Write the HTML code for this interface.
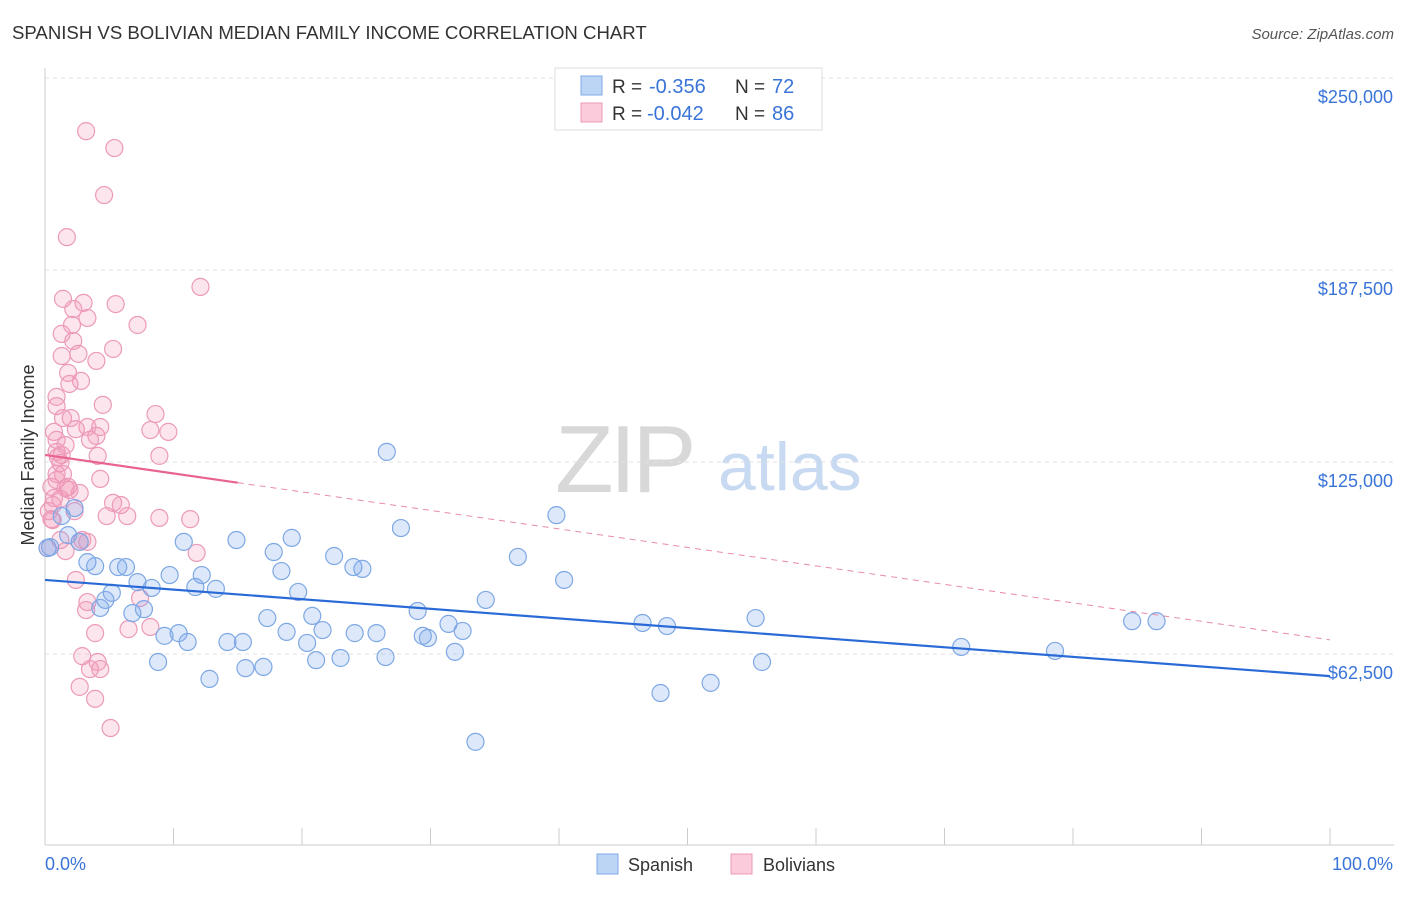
<!DOCTYPE html>
<html><head><meta charset="utf-8"><style>
body{margin:0;background:#fff;font-family:"Liberation Sans",sans-serif;}
svg text{font-family:"Liberation Sans",sans-serif;}
</style></head><body>
<svg id="chart" width="1406" height="892" xmlns="http://www.w3.org/2000/svg">
<text x="12" y="39" font-size="18.6" fill="#333">SPANISH VS BOLIVIAN MEDIAN FAMILY INCOME CORRELATION CHART</text>
<text x="1394" y="39" font-size="15" fill="#555" text-anchor="end" font-style="italic">Source: ZipAtlas.com</text>
<text x="555" y="492" font-size="96" fill="#d8d8d8" font-family="Liberation Serif" letter-spacing="-4">ZIP</text>
<text x="718" y="490" font-size="68" fill="#c8daf2">atlas</text>
<text transform="translate(34,455) rotate(-90)" font-size="18" fill="#333" text-anchor="middle">Median Family Income</text>
<g id="grid"></g><g id="pts"></g><g id="lines"></g>
<g>
<rect x="555" y="68" width="267" height="62" fill="#fff" stroke="#ddd"/>
<rect x="581" y="76" width="21" height="19" fill="#bcd5f5" stroke="#7eaae6"/>
<text x="612" y="93" font-size="19" fill="#333">R =</text>
<text x="649" y="93" font-size="20" fill="#3a74d8">-0.356</text>
<text x="735" y="93" font-size="19" fill="#333">N =</text>
<text x="772" y="93" font-size="20" fill="#3a74d8">72</text>
<rect x="581" y="103" width="21" height="19" fill="#fbcadb" stroke="#ee9ab8"/>
<text x="612" y="120" font-size="19" fill="#333">R =</text>
<text x="647" y="120" font-size="20" fill="#3a74d8">-0.042</text>
<text x="735" y="120" font-size="19" fill="#333">N =</text>
<text x="772" y="120" font-size="20" fill="#3a74d8">86</text>
</g>
<g>
<rect x="597" y="854" width="21" height="20" fill="#bcd5f5" stroke="#7eaae6"/>
<text x="628" y="871" font-size="18" fill="#333">Spanish</text>
<rect x="731" y="854" width="21" height="20" fill="#fbcadb" stroke="#ee9ab8"/>
<text x="763" y="871" font-size="18" fill="#333">Bolivians</text>
</g>
<text x="45" y="870" font-size="18" fill="#3a74d8">0.0%</text>
<text x="1393" y="870" font-size="18" fill="#3a74d8" text-anchor="end">100.0%</text>
</svg>
<script>
const yTicks=[62500,125000,187500,250000];
const yTickLabels=["$62,500","$125,000","$187,500","$250,000"];
const spanishX=[0.2,1.3,1.8,2.3,2.7,3.3,3.9,4.3,4.7,5.2,5.7,6.3,6.8,7.2,7.7,8.3,8.8,9.3,9.7,10.4,10.8,11.1,11.7,12.2,12.8,13.3,14.2,14.9,15.4,15.6,17.0,17.3,17.8,18.4,18.8,19.2,19.7,20.4,20.8,21.1,21.6,22.5,23.0,24.0,24.1,24.7,25.8,26.5,26.6,27.7,29.0,29.4,29.8,31.4,31.9,32.5,33.5,34.3,36.8,39.8,40.4,46.5,47.9,48.4,51.8,55.3,55.8,71.3,78.6,84.6,86.5,0.4];
const spanishY=[97.0,107.4,101.2,110.0,99.0,92.4,91.1,77.5,80.1,82.4,90.8,90.8,75.8,85.9,77.1,84.0,59.9,68.4,88.2,69.3,99.0,66.4,84.3,88.2,54.4,83.7,66.4,99.6,66.4,57.9,58.3,74.2,95.7,89.5,69.7,100.3,82.7,66.1,74.9,60.5,70.3,94.4,61.2,90.8,69.3,90.2,69.3,61.5,128.3,103.5,76.5,68.4,67.7,72.3,63.2,70.0,33.9,80.1,94.1,107.7,86.6,72.6,49.8,71.6,53.1,74.2,59.9,64.8,63.5,73.2,73.2,97.3];
const bolX=[3.2,5.4,4.6,1.7,12.1,1.4,3.0,5.5,2.2,3.3,7.2,2.1,1.3,2.2,5.3,1.3,2.6,4.0,1.8,2.8,1.9,0.9,4.5,0.9,8.6,1.4,2.0,4.3,3.3,2.4,9.6,0.7,4.0,0.9,1.6,0.9,1.3,4.1,8.9,1.0,4.3,0.9,1.4,1.8,2.7,0.5,1.9,1.2,5.3,5.9,0.6,2.3,0.3,4.8,6.4,8.9,11.3,0.5,2.9,1.2,3.3,2.7,11.8,1.6,2.4,7.4,3.3,3.2,8.2,6.5,3.9,2.9,4.1,4.3,3.5,2.7,3.9,5.1,0.2,0.9,1.6,0.6,0.7,1.2,3.5,8.2];
const bolY=[232.7,227.2,211.9,198.2,182.0,178.1,176.8,176.4,174.8,171.9,169.6,169.6,166.7,164.4,161.8,159.5,160.2,157.9,154.0,151.4,150.4,146.2,143.6,143.2,140.6,139.3,139.3,136.4,136.4,135.7,134.8,134.8,133.5,132.2,130.5,128.3,127.3,127.0,127.0,126.6,119.5,121.1,121.1,116.9,114.9,116.9,115.9,113.0,111.7,111.0,111.0,109.0,109.0,107.4,107.4,106.8,106.4,106.4,99.6,99.6,99.0,99.0,95.4,96.0,86.6,80.7,79.4,76.8,71.3,70.6,69.3,61.8,59.9,57.6,57.6,51.8,47.9,38.4,97.0,119.1,116.5,106.1,113.3,124.7,132.2,135.4];
const spanishTrend=[86.6,55.3];
const bolTrend=[127.3,67.1];
const NS="http://www.w3.org/2000/svg";
function xs(p){return 45+p*12.85;}
function ys(k){return 78+(250-k)*3.072;}
function mk(tag,at,parent){const e=document.createElementNS(NS,tag);for(const k in at)e.setAttribute(k,at[k]);parent.appendChild(e);return e;}
const grid=document.getElementById('grid');
yTicks.forEach((t,i)=>{
 const y=ys(t/1000);
 const l=mk('line',{x1:45,x2:1394,y1:y,y2:y,stroke:'#e2e2e2','stroke-dasharray':'4,4'},grid);
 
 
 const tx=mk('text',{x:1393,y:y+25,'font-size':18,fill:'#3a74d8','text-anchor':'end'},grid);
 tx.textContent=yTickLabels[i];
 
 
});
const ax=mk('line',{x1:45,x2:45,y1:68,y2:845,stroke:'#ccc'},grid);


const bx=mk('line',{x1:45,x2:1394,y1:845,y2:845,stroke:'#ccc'},grid);


for(let i=0;i<=10;i++){
 const t=mk('line',{x1:xs(i*10),x2:xs(i*10),y1:828,y2:845,stroke:'#ccc'},grid);
 
 
}
const pts=document.getElementById('pts');
bolX.forEach((x,i)=>{
 const c=mk('circle',{cx:xs(x),cy:ys(bolY[i]),r:8.5,fill:'rgba(244,150,185,0.25)',stroke:'#ec9ab9','stroke-width':1.2},pts);
 
 
});
spanishX.forEach((x,i)=>{
 const c=mk('circle',{cx:xs(x),cy:ys(spanishY[i]),r:8.5,fill:'rgba(120,165,235,0.25)',stroke:'#7ea8e4','stroke-width':1.2},pts);
 
 
});
const lines=document.getElementById('lines');
const sl=mk('line',{x1:xs(0),y1:ys(spanishTrend[0]),x2:xs(100),y2:ys(spanishTrend[1]),stroke:'#2a6ad6','stroke-width':2.2},lines);


const bm=t=>bolTrend[0]+(bolTrend[1]-bolTrend[0])*t/100;
const bd=mk('line',{x1:xs(15),y1:ys(bm(15)),x2:xs(100),y2:ys(bm(100)),stroke:'#e88aa8','stroke-width':1,'stroke-dasharray':'6,5'},lines);


const bs=mk('line',{x1:xs(0),y1:ys(bm(0)),x2:xs(15),y2:ys(bm(15)),stroke:'#e8638f','stroke-width':2.2},lines);


</script>
</body></html>
